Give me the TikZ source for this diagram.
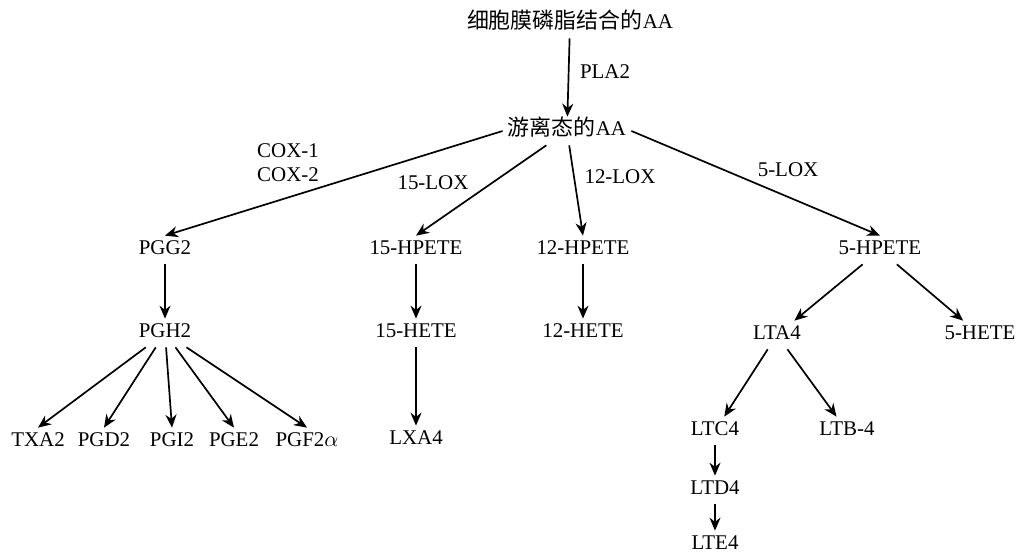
\documentclass[tikz,border=0pt]{standalone}
\usepackage{fontspec}
\setmainfont{Liberation Serif}
\newfontfamily\cjk{Noto Sans CJK SC}[Scale=1.05]
\usetikzlibrary{arrows.meta}

\begin{document}
\begin{tikzpicture}[x=0.5bp, y=-0.5bp,
  every node/.style={font=\fontsize{10.5}{12}\selectfont},
  cmpd/.style={inner sep=2.5pt, text height=7pt, text depth=2pt},
  enz/.style={inner sep=0pt, align=center},
  rxn/.style={-{Stealth[length=6.5bp, width=5.5bp]}, line width=0.85pt}]
  \useasboundingbox (0,0) rectangle (1019,555);

  % top of the cascade
  \node[cmpd] (bound) at (570,24) {{\cjk 细胞膜磷脂结合的}AA};
  \node[cmpd] (free) at (567,131) {{\cjk 游离态的}AA};
  \node[enz] (pla) at (605,72) {PLA2};

  % cyclooxygenase branch
  \node[cmpd] (pgg) at (165,250) {PGG2};
  \node[cmpd] (pgh) at (165,333) {PGH2};
  \node[cmpd] (txa) at (38,442) {TXA2};
  \node[cmpd] (pgd) at (104,442) {PGD2};
  \node[cmpd] (pgi) at (172,442) {PGI2};
  \node[cmpd] (pge) at (234,442) {PGE2};
  \node[cmpd] (pgf) at (307,442) {PGF2$\alpha$};
  \node[enz] (cox) at (288,163) {COX-1\\COX-2};

  % 15-LOX and 12-LOX
  \node[cmpd] (hp15) at (416,250) {15-HPETE};
  \node[cmpd] (he15) at (416,333) {15-HETE};
  \node[cmpd] (lxa) at (416,440) {LXA4};
  \node[enz] (lox15) at (433,183) {15-LOX};
  \node[cmpd] (hp12) at (583,250) {12-HPETE};
  \node[cmpd] (he12) at (583,333) {12-HETE};
  \node[enz] (lox12) at (620,177) {12-LOX};

  % 5-LOX branch
  \node[cmpd] (hp5) at (880,250) {5-HPETE};
  \node[cmpd] (lta) at (777,335) {LTA4};
  \node[cmpd] (he5) at (980,335) {5-HETE};
  \node[cmpd] (ltc) at (715,431) {LTC4};
  \node[cmpd] (ltb) at (847,431) {LTB-4};
  \node[cmpd] (ltd) at (715,490) {LTD4};
  \node[cmpd] (lte) at (715,545) {LTE4};
  \node[enz] (lox5) at (788,170) {5-LOX};

  \draw[rxn] (bound) -- (free);
  \draw[rxn] (free.west) -- (pgg.north);
  \draw[rxn] (free) -- (hp15.north);
  \draw[rxn] (free) -- (hp12.north);
  \draw[rxn] (free.east) -- (hp5.north);

  \draw[rxn] (pgg) -- (pgh);
  \foreach \p in {txa,pgd,pgi,pge,pgf}
    \draw[rxn] (pgh) -- (\p.north);

  \draw[rxn] (hp15) -- (he15);
  \draw[rxn] (he15) -- (lxa);
  \draw[rxn] (hp12) -- (he12);

  \draw[rxn] (hp5) -- (lta);
  \draw[rxn] (hp5) -- (he5);
  \draw[rxn] (lta) -- (ltc);
  \draw[rxn] (lta) -- (ltb);
  \draw[rxn] (ltc) -- (ltd);
  \draw[rxn] (ltd) -- (lte);
\end{tikzpicture}
\end{document}
